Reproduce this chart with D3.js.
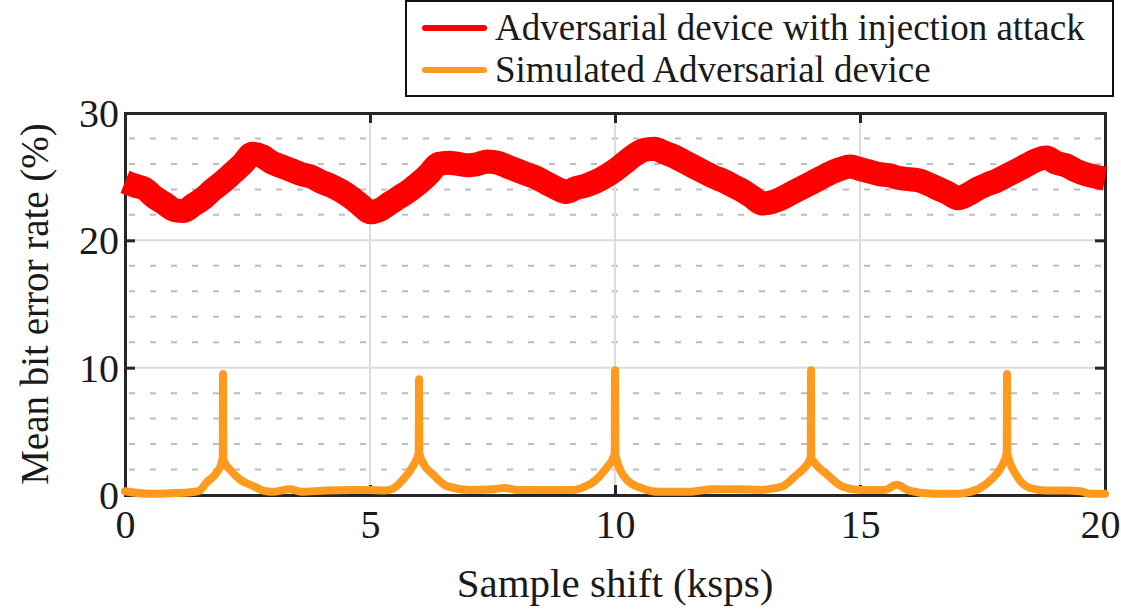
<!DOCTYPE html>
<html>
<head>
<meta charset="utf-8">
<script src="https://cdn.jsdelivr.net/npm/d3@7"></script>
<style>
  html, body { margin: 0; padding: 0; background: #fff; }
  svg { display: block; }
  text { font-family: "Liberation Serif", "DejaVu Serif", serif; fill: #1a1a1a; }
</style>
</head>
<body>
<svg id="chart" width="1121" height="615"></svg>
<script>
// ---------- data ----------
const seriesNames = ["Adversarial device with injection attack", "Simulated Adversarial device"];
const seriesColors = ["#ff0000", "#ff9a1e"];

const xTicks = [0, 5, 10, 15, 20];
const yTicks = [0, 10, 20, 30];
const yMinorTicks = [2, 4, 6, 8, 12, 14, 16, 18, 22, 24, 26, 28];

// Adversarial device with injection attack (sampled every 0.2 ksps)
const redX = d3.range(0, 20.0001, 0.2).map(v => +v.toFixed(1));
const redY = [
  24.6, 24.3, 24.05, 23.4, 22.9, 22.4, 22.3, 22.8, 23.3, 24.0,
  24.6, 25.3, 26.0, 26.8, 26.6, 26.1, 25.8, 25.5, 25.2, 25.0,
  24.6, 24.3, 23.9, 23.4, 22.8, 22.2, 22.4, 22.9, 23.4, 23.9,
  24.5, 25.2, 26.0, 26.1, 26.0, 25.9, 26.0, 26.2, 26.1, 25.8,
  25.5, 25.2, 24.9, 24.5, 24.1, 23.8, 24.1, 24.3, 24.6, 25.0,
  25.5, 26.1, 26.7, 27.1, 27.2, 26.9, 26.6, 26.2, 25.8, 25.4,
  25.0, 24.7, 24.3, 23.9, 23.4, 22.9, 23.0, 23.3, 23.7, 24.1,
  24.5, 24.9, 25.3, 25.6, 25.8, 25.6, 25.4, 25.2, 25.1, 24.9,
  24.8, 24.7, 24.4, 24.05, 23.7, 23.3, 23.6, 24.05, 24.4, 24.7,
  25.1, 25.5, 25.9, 26.3, 26.5, 26.1, 25.9, 25.5, 25.2, 25.0,
  24.85
];

// Simulated Adversarial device
const orangeX = [
  0, 0.5, 1.0, 1.3, 1.5, 1.67, 1.87, 1.97, 1.995, 2.0, 2.005, 2.04, 2.14, 2.35, 2.62, 2.82,
  3.0, 3.37, 3.6, 4.1, 4.6, 5.0, 5.3, 5.47, 5.67, 5.88, 5.995, 6.0, 6.005, 6.1, 6.29, 6.57,
  7.04, 7.5, 7.75, 8.0, 8.5, 9.14, 9.35, 9.55, 9.8, 9.995, 10.0, 10.005, 10.24, 10.57, 10.9,
  11.5, 12.0, 12.5, 13.0, 13.2, 13.43, 13.71, 13.9, 13.995, 14.0, 14.005, 14.1, 14.33, 14.65, 15.0,
  15.5, 15.75, 16.0, 16.5, 17.0, 17.2, 17.43, 17.7, 17.9, 17.995, 18.0, 18.005, 18.2, 18.47, 18.8,
  19.2, 19.5, 19.7, 20.0
];
const orangeY = [
  0.3, 0.1, 0.15, 0.2, 0.3, 1.0, 1.75, 2.5, 2.9, 9.5, 2.9, 2.5, 2.0, 1.2, 0.7, 0.35,
  0.25, 0.45, 0.25, 0.35, 0.4, 0.4, 0.35, 0.5, 1.2, 2.3, 3.3, 9.1, 3.3, 2.4, 1.6, 0.7,
  0.4, 0.45, 0.55, 0.4, 0.4, 0.4, 0.6, 1.0, 2.0, 3.2, 9.8, 3.2, 1.2, 0.5, 0.25,
  0.25, 0.45, 0.45, 0.4, 0.5, 0.7, 1.6, 2.3, 2.95, 9.8, 2.95, 2.4, 1.6, 0.65, 0.4,
  0.4, 0.8, 0.35, 0.1, 0.1, 0.2, 0.5, 1.3, 2.3, 3.3, 9.5, 3.3, 1.5, 0.55, 0.35,
  0.35, 0.3, 0.1, 0.1
];

// ---------- layout ----------
const svg = d3.select("#chart");
const L = 125, R = 1105, T = 113, B = 495;
const x = d3.scaleLinear().domain([0, 20]).range([L, R]);
const y = d3.scaleLinear().domain([0, 30]).range([B, T]);

// grid
const g = svg.append("g");
g.selectAll("line.minor").data(yMinorTicks).join("line")
  .attr("x1", L + 4).attr("x2", R).attr("y1", d => y(d)).attr("y2", d => y(d))
  .attr("stroke", "#bdbdbd").attr("stroke-width", 2).attr("stroke-dasharray", "6,15");
g.selectAll("line.majy").data(yTicks.slice(1, -1)).join("line")
  .attr("x1", L).attr("x2", R).attr("y1", d => y(d)).attr("y2", d => y(d))
  .attr("stroke", "#dcdcdc").attr("stroke-width", 2);
g.selectAll("line.majx").data(xTicks.slice(1, -1)).join("line")
  .attr("class", "majx")
  .attr("y1", T).attr("y2", B).attr("x1", d => x(d)).attr("x2", d => x(d))
  .attr("stroke", "#dcdcdc").attr("stroke-width", 2);

// axes with inward ticks
const axCol = "#262626";
const axB = svg.append("g").attr("transform", `translate(0,${B})`)
  .call(d3.axisBottom(x).tickValues(xTicks).tickSize(-10).tickPadding(14).tickFormat(d3.format("d")));
const axT = svg.append("g").attr("transform", `translate(0,${T})`)
  .call(d3.axisTop(x).tickValues(xTicks).tickSize(-10).tickFormat(""));
const axL = svg.append("g").attr("transform", `translate(${L},0)`)
  .call(d3.axisLeft(y).tickValues(yTicks).tickSize(-10).tickPadding(6).tickFormat(d3.format("d")));
const axR = svg.append("g").attr("transform", `translate(${R},0)`)
  .call(d3.axisRight(y).tickValues(yTicks).tickSize(-10).tickFormat(""));
[axB, axT, axL, axR].forEach(a => {
  a.select(".domain").attr("stroke", axCol).attr("stroke-width", 3);
  a.selectAll(".tick line").attr("stroke", axCol).attr("stroke-width", 3);
  a.selectAll("text").attr("fill", "#1a1a1a").style("font-size", "40px")
    .style("font-family", '"Liberation Serif", serif');
});
axB.selectAll("text").attr("dy", "0.72em")
  .attr("dx", d => d === 20 ? -5 : 0);
axL.selectAll("text").attr("dy", "0.34em");

// lines
const redData = redX.map((d, i) => [d, redY[i]]);
const orangeData = orangeX.map((d, i) => [d, orangeY[i]]);
const line = d3.line().x(d => x(d[0])).y(d => y(d[1])).curve(d3.curveMonotoneX);

svg.append("path").datum(redData).attr("d", line)
  .attr("fill", "none").attr("stroke", seriesColors[0]).attr("stroke-width", 24)
  .attr("stroke-linejoin", "round").attr("stroke-linecap", "butt");
svg.append("path").datum(orangeData).attr("d", line)
  .attr("fill", "none").attr("stroke", seriesColors[1]).attr("stroke-width", 8)
  .attr("stroke-linejoin", "round").attr("stroke-linecap", "round");

// axis titles
svg.append("text").attr("x", (L + R) / 2).attr("y", 597).attr("text-anchor", "middle")
  .style("font-size", "41px").text("Sample shift (ksps)");
svg.append("text").attr("transform", `translate(48,${(T + B) / 2}) rotate(-90)`)
  .attr("text-anchor", "middle").style("font-size", "39px").text("Mean bit error rate (%)");

// legend
const lg = svg.append("g");
lg.append("rect").attr("x", 406).attr("y", 1).attr("width", 707).attr("height", 95)
  .attr("fill", "#fff").attr("stroke", "#111").attr("stroke-width", 2);
seriesNames.forEach((name, i) => {
  const yy = 28 + i * 42;
  lg.append("line").attr("x1", 425).attr("x2", 484).attr("y1", yy).attr("y2", yy)
    .attr("stroke", seriesColors[i]).attr("stroke-width", 6).attr("stroke-linecap", "round");
  lg.append("text").attr("x", 495).attr("y", yy).attr("dy", "0.33em")
    .style("font-size", "37px").text(name);
});
</script>
</body>
</html>
